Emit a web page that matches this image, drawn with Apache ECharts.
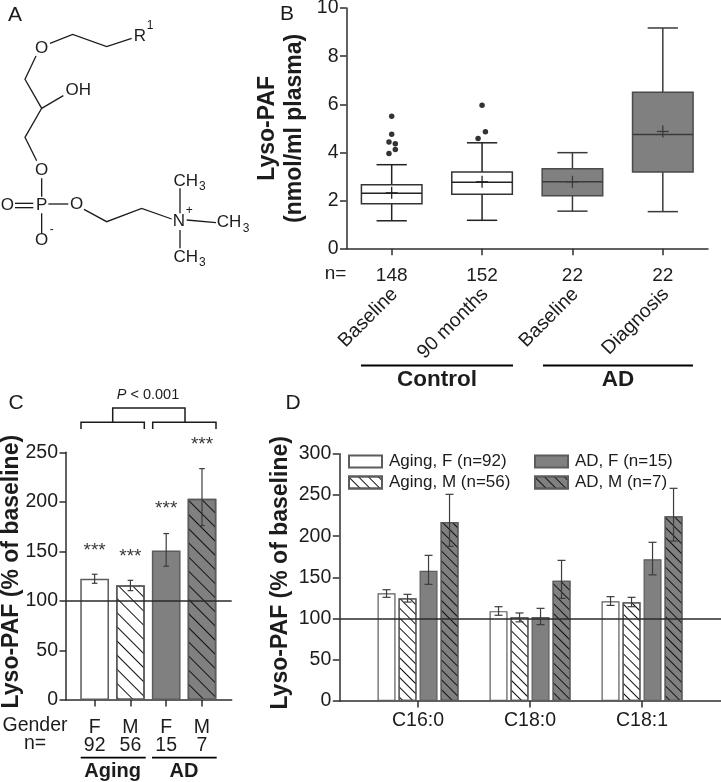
<!DOCTYPE html>
<html><head><meta charset="utf-8">
<style>html,body{margin:0;padding:0;background:#fff}#c{width:721px;height:782px}</style>
<script src="https://cdn.jsdelivr.net/npm/echarts@6/dist/echarts.min.js"></script>
</head><body><div id="c"></div>
<script>
// ---------- Panel B data ----------
const bNs = ['148', '152', '22', '22'];
const bGroups = ['Baseline', '90 months', 'Baseline', 'Diagnosis'];
const bLow = [1.16, 1.18, 1.56, 1.54];
const bQ1 = [1.87, 2.26, 2.2, 3.19];
const bMedian = [2.3, 2.76, 2.78, 4.74];
const bQ3 = [2.66, 3.19, 3.32, 6.5];
const bHigh = [3.49, 4.4, 3.99, 9.17];
const bMean = [2.32, 2.78, 2.78, 4.87];
const bOutliers = [[1, 5.5], [1, 4.75], [0.97, 4.43], [1.04, 4.36], [1.04, 4.12], [0.97, 3.96], [2, 5.96], [2.037, 4.86], [1.956, 4.58]];
// ---------- Panel C data ----------
const cGender = ['F', 'M', 'F', 'M'];
const cN = ['92', '56', '15', '7'];
const cValues = [122.5, 115.7, 151, 203];
const cErrLow = [117.8, 110.4, 135, 176];
const cErrHigh = [126.9, 120.8, 168, 233.5];
const cStars = [153, 147, 195, 260];
// ---------- Panel D data ----------
const dCats = ['C16:0', 'C18:0', 'C18:1'];
const dAgingF = [130.6, 109, 121];
const dAgingM = [124.5, 101.5, 119.7];
const dAdF = [158, 102, 172];
const dAdM = [217, 146, 224];
const dAgingFLow = [125.8, 104, 116], dAgingFHigh = [135, 114.4, 126.6];
const dAgingMLow = [120, 96, 114.4], dAgingMHigh = [129.4, 106.8, 125.8];
const dAdFLow = [141.5, 92.6, 153], dAdFHigh = [176.7, 112.4, 192.5];
const dAdMLow = [187.6, 124.5, 194], dAdMHigh = [250.7, 170.6, 258];

const FONT = '"Liberation Sans", Arial, sans-serif';
const INK = '#1c1c1c', LINE = '#2e2e2e', GRAY = '#808080', EDGE = '#5c5c5c';
const hatch = (gap) => ({symbol: 'rect', symbolSize: 1, dashArrayX: [1, 0], dashArrayY: [1, gap], rotation: Math.PI / 4, color: '#111'});

const chart = echarts.init(document.getElementById('c'), null, {renderer: 'canvas'});

// ---------- graphic helpers (non-data drawing and annotation) ----------
const g = [];
const poly = (pts, w, color) => g.push({type: 'polyline', silent: true, shape: {points: pts}, style: {stroke: color || INK, lineWidth: w || 1.5, fill: null}});
const txt = (x, y, s, size, opt) => g.push({type: 'text', silent: true, x, y, style: Object.assign({text: s, font: (opt && opt.weight || 'normal') + ' ' + size + 'px ' + FONT, fill: INK, textAlign: 'center', textVerticalAlign: 'middle'}, opt && opt.style)});
const Z = (a) => a.map(p => [p[0] / 3, p[1] / 3]);
// molecule (panel A), traced in 3x zoom coordinates
[[[150, 130], [218, 103], [320, 140], [395, 115]],
 [[108, 168], [75, 238], [125, 325], [75, 412], [110, 482]],
 [[125, 325], [190, 287]],
 [[125, 535], [125, 590]],
 [[45, 610], [100, 610]], [[45, 623], [100, 623]],
 [[145, 612], [205, 612]],
 [[252, 628], [320, 665], [425, 625], [515, 657]],
 [[540, 565], [540, 640]],
 [[560, 660], [648, 668]],
 [[540, 690], [540, 745]],
 [[125, 640], [125, 700]]].forEach(p => poly(Z(p), 1.3));
[['O', 125, 145], ['R', 420, 110], ['OH', 235, 272], ['O', 125, 510], ['P', 125, 617], ['O', 22, 617], ['O', 230, 612],
 ['N', 537, 665], ['CH', 557, 543], ['CH', 687, 668], ['CH', 557, 772], ['O', 125, 720]].forEach(t => txt(t[1] / 3, t[2] / 3, t[0], 17));
[['1', 450, 78], ['3', 607, 560], ['3', 738, 686], ['3', 607, 788], ['+', 568, 632], ['-', 155, 690]].forEach(t => txt(t[1] / 3, t[2] / 3, t[0], 12));
// panel letters
txt(15, 15, 'A', 21); txt(287, 14, 'B', 21); txt(16, 403, 'C', 21); txt(293, 403, 'D', 21);
// panel B annotation
txt(335.5, 274, 'n=', 19);
poly([[361, 365.5], [513, 365.5]], 2.2, '#000'); poly([[543, 365.5], [693, 365.5]], 2.2, '#000');
txt(437, 380, 'Control', 22.5, {weight: 'bold'}); txt(618, 380, 'AD', 22.5, {weight: 'bold'});
// panel C annotation
txt(35, 725.5, 'Gender', 19.5); txt(35, 744, 'n=', 19.5);
poly([[80.7, 757.7], [145.7, 757.7]], 1.8, '#000'); poly([[152, 757.7], [216.7, 757.7]], 1.8, '#000');
txt(112.7, 771.5, 'Aging', 20, {weight: 'bold'}); txt(184, 771.5, 'AD', 20, {weight: 'bold'});
poly([[81, 429], [81, 422.3], [144.3, 422.3], [144.3, 429]], 1.5);
poly([[152.7, 429], [152.7, 422.3], [216, 422.3], [216, 429]], 1.5);
poly([[112.7, 422.3], [112.7, 408], [185, 408], [185, 422.3]], 1.5);
g.push({type: 'text', silent: true, x: 148, y: 395, style: {
  text: '{i|P} < 0.001', font: '14.5px ' + FONT, fill: INK, textAlign: 'center', textVerticalAlign: 'middle',
  rich: {i: {font: 'italic 14.5px ' + FONT, fill: INK}}}});

// ---------- axes ----------
const axisLine = {show: true, onZero: false, lineStyle: {color: LINE, width: 1.5}};
const axisTick = {show: true, length: 6.5, lineStyle: {color: LINE, width: 1.5}};
const yAxis = (idx, max, interval, name, gap, lh, shift) => ({
  type: 'value', gridIndex: idx, min: 0, max, interval,
  name, nameLocation: 'middle', nameGap: gap, nameRotate: 90, nameMoveOverlap: false,
  nameTextStyle: {fontFamily: FONT, fontWeight: 'bold', fontSize: 23, color: INK, lineHeight: lh, padding: [0, 0, 0, shift]},
  axisLine, axisTick, splitLine: {show: false},
  axisLabel: {fontFamily: FONT, fontSize: 19.5, color: INK, margin: 8}
});

const legendBase = {orient: 'vertical', itemWidth: 33, itemHeight: 12, itemGap: 4, padding: 0, selectedMode: false, icon: 'rect',
  textStyle: {fontFamily: FONT, fontSize: 17, color: INK, padding: [0, 0, 0, 2]}};
const opt = {
  animation: false,
  backgroundColor: '#fff',
  textStyle: {fontFamily: FONT},
  grid: [
    {left: 346.5, top: 8, width: 361.5, height: 240.7, outerBoundsMode: 'none'},
    {left: 66, top: 452.3, width: 165.7, height: 247.7, outerBoundsMode: 'none'},
    {left: 339.3, top: 453.7, width: 381.7, height: 247.3, outerBoundsMode: 'none'}
  ],
  legend: [
    Object.assign({left: 348, top: 453, data: ['Aging, F (n=92)', 'Aging, M (n=56)']}, legendBase),
    Object.assign({left: 534, top: 453, data: ['AD, F (n=15)', 'AD, M (n=7)']}, legendBase)
  ],
  xAxis: [
    {type: 'category', gridIndex: 0, position: 'bottom', data: bNs, axisLine, axisTick: Object.assign({}, axisTick, {alignWithLabel: true}),
     axisLabel: {fontFamily: FONT, fontSize: 19, color: INK, margin: 18}},
    {type: 'value', gridIndex: 0, position: 'bottom', min: 0.5, max: 4.5, axisLine: {show: false}, axisTick: {show: false}, splitLine: {show: false},
     axisLabel: {customValues: [1.033, 2.033, 3.033, 4.033], fontFamily: FONT, fontSize: 19.5, color: INK, rotate: 45, margin: 42.5,
       formatter: v => bGroups[Math.round(v) - 1]}},
    {type: 'value', gridIndex: 1, min: 0.2, max: 4.83, axisLine, axisTick: Object.assign({}, axisTick, {customValues: [1, 2, 3, 4]}), splitLine: {show: false},
     axisLabel: {customValues: [1, 2, 3, 4], fontFamily: FONT, fontSize: 19.5, color: INK, margin: 18, lineHeight: 18.5,
       formatter: v => cGender[v - 1] + '\n' + cN[v - 1]}},
    {type: 'value', gridIndex: 2, min: 0.297, max: 3.705, axisLine, axisTick: Object.assign({}, axisTick, {customValues: [1, 2, 3]}), splitLine: {show: false},
     axisLabel: {customValues: [1, 2, 3], fontFamily: FONT, fontSize: 19.5, color: INK, margin: 10,
       formatter: v => dCats[v - 1]}}
  ],
  yAxis: [
    yAxis(0, 10, 2, 'Lyso-PAF\n(nmol/ml plasma)', 38, 27, 0),
    yAxis(1, 250, 50, 'Lyso-PAF (% of baseline)', 42.5, 24, 9),
    yAxis(2, 300, 50, 'Lyso-PAF (% of baseline)', 47, 24, 9)
  ],
  graphic: {elements: g},
  series: []
};

// ---------- panel B ----------
const seg = (a, b, w, c) => ({type: 'line', shape: {x1: a[0], y1: a[1], x2: b[0], y2: b[1]}, style: {stroke: c, lineWidth: w}});
opt.series.push({
  type: 'custom', name: 'Box', xAxisIndex: 0, yAxisIndex: 0, z: 3,
  data: bNs.map((n, i) => [i, bLow[i], bQ1[i], bMedian[i], bQ3[i], bHigh[i], bMean[i]]),
  encode: {x: 0, y: [1, 2, 3, 4, 5, 6]},
  renderItem(params, api) {
    const i = api.value(0);
    const cx = api.coord([i, 0])[0], half = api.size([1, 0])[0] * 0.335, cap = half / 2, ink = i < 2 ? '#222' : '#3a3a3a';
    const y = k => api.coord([i, api.value(k)])[1];
    return {type: 'group', children: [
      seg([cx, y(1)], [cx, y(2)], 1.5, ink), seg([cx, y(4)], [cx, y(5)], 1.5, ink),
      seg([cx - cap, y(1)], [cx + cap, y(1)], 1.5, ink), seg([cx - cap, y(5)], [cx + cap, y(5)], 1.5, ink),
      {type: 'rect', shape: {x: cx - half, y: y(4), width: half * 2, height: y(2) - y(4)},
       style: {fill: i < 2 ? '#fff' : GRAY, stroke: i < 2 ? '#333' : '#4a4a4a', lineWidth: 1.5}},
      seg([cx - half, y(3)], [cx + half, y(3)], 1.5, ink),
      seg([cx - 6, y(6)], [cx + 6, y(6)], 1.3, ink), seg([cx, y(6) - 6], [cx, y(6) + 6], 1.3, ink)
    ]};
  }
});
opt.series.push({type: 'scatter', name: 'Outliers', xAxisIndex: 1, yAxisIndex: 0, symbolSize: 5.5, itemStyle: {color: '#000'}, data: bOutliers, z: 4});

// ---------- error bars (panels C, D) ----------
const errSeries = (xi, yi, capHalf, data, color) => ({
  type: 'custom', xAxisIndex: xi, yAxisIndex: yi, z: 6, clip: false, data,
  encode: {x: 0, y: [1, 2]},
  renderItem(params, api) {
    const lo = api.coord([api.value(0), api.value(1)]), hi = api.coord([api.value(0), api.value(2)]);
    return {type: 'group', children: [
      seg(lo, hi, 1.2, color),
      seg([lo[0] - capHalf, lo[1]], [lo[0] + capHalf, lo[1]], 1.2, color),
      seg([hi[0] - capHalf, hi[1]], [hi[0] + capHalf, hi[1]], 1.2, color)
    ]};
  }
});
const refLine = {silent: true, symbol: 'none', label: {show: false}, lineStyle: {color: '#2a2a2a', width: 1.5, type: 'solid'}, data: [{yAxis: 100}]};

// ---------- panel C ----------
const cStyle = [
  {color: '#fff', borderColor: EDGE, borderWidth: 1.5},
  {color: '#fff', borderColor: EDGE, borderWidth: 1.5, decal: hatch(9)},
  {color: GRAY, borderColor: EDGE, borderWidth: 1.5},
  {color: GRAY, borderColor: EDGE, borderWidth: 1.5, decal: hatch(9)}
];
opt.series.push({type: 'bar', name: 'Panel C', xAxisIndex: 2, yAxisIndex: 1, barWidth: 28.7, z: 2,
  data: cValues.map((v, i) => ({value: [i + 1, v], itemStyle: cStyle[i]})), markLine: refLine});
opt.series.push(errSeries(2, 1, 2.8, cValues.map((v, i) => [i + 1, cErrLow[i], cErrHigh[i]]), '#3c3c3c'));
opt.series.push({type: 'scatter', name: 'Significance', xAxisIndex: 2, yAxisIndex: 1, symbolSize: 0, clip: false, z: 7,
  data: cStars.map((v, i) => [i + 1, v]),
  label: {show: true, position: 'inside', offset: [0, 2], formatter: '***', fontFamily: FONT, fontSize: 19, color: '#000'}});

// ---------- panel D ----------
const dNames = ['Aging, F (n=92)', 'Aging, M (n=56)', 'AD, F (n=15)', 'AD, M (n=7)'];
const dVals = [dAgingF, dAgingM, dAdF, dAdM];
const dLows = [dAgingFLow, dAgingMLow, dAdFLow, dAdMLow];
const dHighs = [dAgingFHigh, dAgingMHigh, dAdFHigh, dAdMHigh];
const dStyle = [
  {color: '#fff', borderColor: EDGE, borderWidth: 1.2},
  {color: '#fff', borderColor: EDGE, borderWidth: 1.2, decal: hatch(6)},
  {color: GRAY, borderColor: EDGE, borderWidth: 1.2},
  {color: GRAY, borderColor: EDGE, borderWidth: 1.2, decal: hatch(6)}
];
const dShift = [-31.5 / 112, -10.5 / 112, 10.5 / 112, 31.5 / 112];
dNames.forEach((name, s) => {
  const ser = {type: 'bar', name, xAxisIndex: 3, yAxisIndex: 2, barWidth: 18, barGap: '16.7%', z: 2,
    itemStyle: dStyle[s], data: dVals[s].map((v, i) => [i + 1, v])};
  if (s === 0) ser.markLine = refLine;
  opt.series.push(ser);
  opt.series.push(errSeries(3, 2, 4, dVals[s].map((v, i) => [i + 1 + dShift[s], dLows[s][i], dHighs[s][i]]), '#3c3c3c'));
});

chart.setOption(opt);
</script>
</body></html>
